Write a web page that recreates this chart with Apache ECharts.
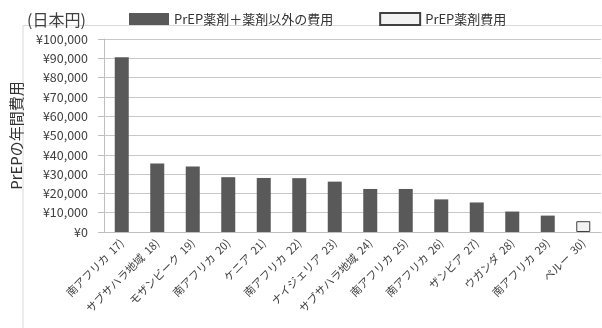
<!DOCTYPE html>
<html>
<head>
<meta charset="utf-8">
<script src="https://cdn.jsdelivr.net/npm/echarts@6/dist/echarts.min.js"></script>
<style>
  html, body { margin: 0; padding: 0; background: #fff; }
  #chart { width: 602px; height: 328px; }
</style>
</head>
<body>
<div id="chart"></div>
<script>
const categories = [
  '南アフリカ  17)', 'サブサハラ地域  18)', 'モザンビーク  19)', '南アフリカ  20)', 'ケニア  21)',
  '南アフリカ  22)', 'ナイジェリア  23)', 'サブサハラ地域  24)', '南アフリカ  25)', '南アフリカ  26)',
  'ザンビア  27)', 'ウガンダ  28)', '南アフリカ  29)', 'ペルー  30)'
];
// PrEP drug + non-drug costs (dark bars)
const totalCost = [90500, 35500, 33900, 28400, 28000, 27900, 26100, 22300, 22300, 16900, 15300, 10600, 8500, '-'];
// PrEP drug cost only (light bar)
const drugCost = ['-', '-', '-', '-', '-', '-', '-', '-', '-', '-', '-', '-', '-', 5600];
const yTicks = { min: 0, max: 100000, interval: 10000 };

const font = "'Noto Sans CJK JP', 'Noto Sans', sans-serif";
const chart = echarts.init(document.getElementById('chart'));

chart.setOption({
  animation: false,
  textStyle: { fontFamily: font },
  graphic: [
    {
      type: 'polyline',
      shape: { points: [[23, 328], [23, 25.5], [602, 25.5]] },
      style: { stroke: '#d9d9d9', lineWidth: 1, fill: null }
    },
    {
      type: 'text',
      left: 27, top: 12,
      style: { text: '(日本円)', font: '16px ' + font, fill: '#404040' }
    }
  ],
  legend: {
    left: 124, top: 7,
    itemWidth: 40, itemHeight: 12,
    itemGap: 46,
    icon: 'rect',
    textStyle: { fontSize: 13, color: '#333', fontFamily: font },
    data: ['PrEP薬剤＋薬剤以外の費用', 'PrEP薬剤費用']
  },
  grid: { left: 104, right: 1, top: 39, bottom: 96 },
  xAxis: {
    type: 'category',
    data: categories,
    axisLine: { lineStyle: { color: '#bfbfbf' } },
    axisTick: { length: 5, lineStyle: { color: '#bfbfbf' } },
    axisLabel: { rotate: 45, fontSize: 11, color: '#404040', margin: 9, interval: 0 }
  },
  yAxis: {
    type: 'value',
    min: yTicks.min, max: yTicks.max, interval: yTicks.interval,
    name: 'PrEPの年間費用',
    nameLocation: 'middle',
    nameGap: 80,
    nameTextStyle: { fontSize: 15, color: '#333' },
    axisLine: { show: true, lineStyle: { color: '#bfbfbf' } },
    axisTick: { show: true, length: 6, lineStyle: { color: '#bfbfbf' } },
    axisLabel: {
      fontSize: 12.5, color: '#404040', margin: 16,
      formatter: (v) => '¥' + v.toLocaleString('en-US')
    },
    splitLine: { lineStyle: { color: '#c8c8c8' } }
  },
  series: [
    {
      name: 'PrEP薬剤＋薬剤以外の費用',
      type: 'bar',
      stack: 'cost',
      barWidth: 14,
      data: totalCost,
      itemStyle: { color: '#595959' }
    },
    {
      name: 'PrEP薬剤費用',
      type: 'bar',
      stack: 'cost',
      barWidth: 14,
      data: drugCost,
      itemStyle: { color: '#f2f2f2', borderColor: '#404040', borderWidth: 1 }
    }
  ]
});
</script>
</body>
</html>
